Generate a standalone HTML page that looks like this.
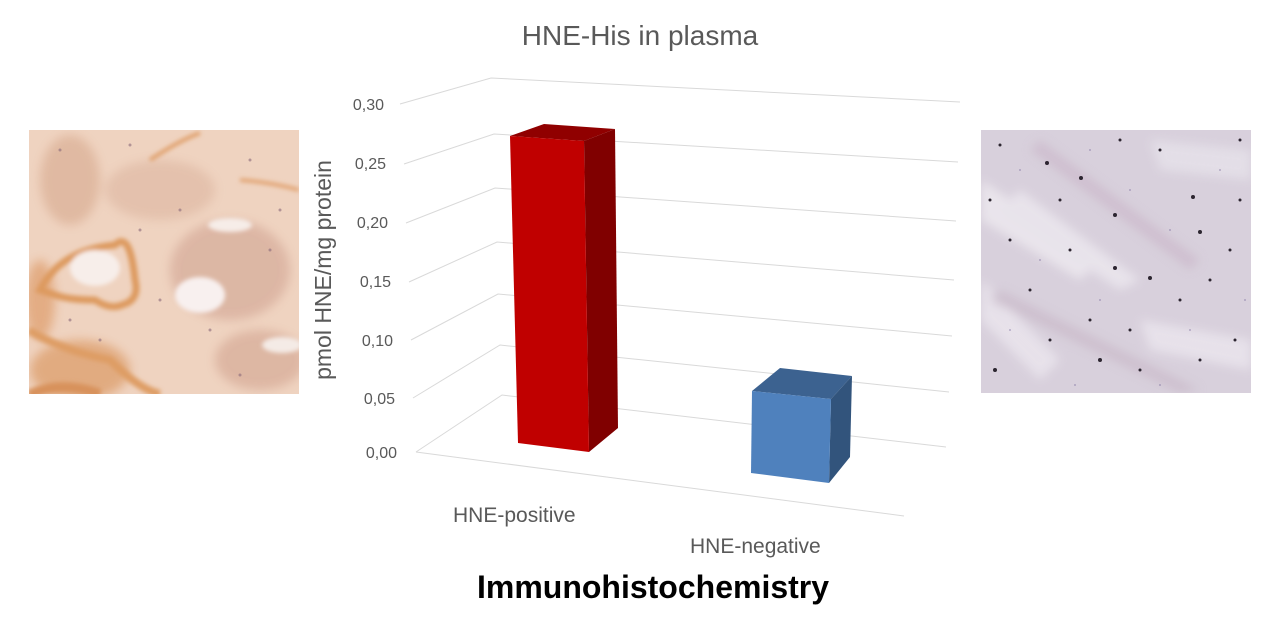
<!DOCTYPE html>
<html><head><meta charset="utf-8"><style>
html,body{margin:0;padding:0;background:#fff;}
body{width:1280px;height:620px;position:relative;overflow:hidden;font-family:"Liberation Sans",sans-serif;}
</style></head><body>
<svg width="1280" height="620" viewBox="0 0 1280 620" xmlns="http://www.w3.org/2000/svg" style="position:absolute;left:0;top:0">
<defs>
<filter id="blur2"><feGaussianBlur stdDeviation="2"/></filter>
<filter id="blur4"><feGaussianBlur stdDeviation="5"/></filter>
<clipPath id="cl"><rect x="29" y="130" width="270" height="264"/></clipPath>
<clipPath id="cr"><rect x="981" y="130" width="270" height="263"/></clipPath>
</defs>
<g clip-path="url(#cl)">
<rect x="29" y="130" width="270" height="264" fill="#efd3c0"/>
<g filter="url(#blur4)" opacity="0.9">
<ellipse cx="70" cy="180" rx="30" ry="45" fill="#dfb79f"/>
<ellipse cx="230" cy="270" rx="60" ry="50" fill="#dbb4a2"/>
<ellipse cx="260" cy="360" rx="45" ry="30" fill="#dcb4a0"/>
<ellipse cx="160" cy="190" rx="55" ry="30" fill="#e3c0ab"/>
<ellipse cx="80" cy="370" rx="50" ry="30" fill="#e0a77a"/>
<ellipse cx="40" cy="300" rx="15" ry="40" fill="#e2a97e"/>
</g>
<g filter="url(#blur2)">
<path d="M40 290 Q60 250 115 245 Q130 230 135 280 Q140 300 122 305 Q110 310 95 300 Q70 300 55 295 Z" fill="none" stroke="#dd9a5e" stroke-width="7"/>
<ellipse cx="95" cy="268" rx="25" ry="18" fill="#f7eeea"/>
<ellipse cx="200" cy="295" rx="25" ry="18" fill="#f8f0ef"/>
<ellipse cx="230" cy="225" rx="22" ry="7" fill="#f6ede8"/>
<ellipse cx="282" cy="345" rx="20" ry="8" fill="#f4ebe6"/>
<path d="M29 330 Q60 350 110 360 Q140 390 160 394" stroke="#de9d65" stroke-width="8" fill="none"/>
<path d="M150 160 Q180 140 200 133" stroke="#e0a06c" stroke-width="4" fill="none"/>
<path d="M240 180 Q270 182 299 190" stroke="#e2a676" stroke-width="4" fill="none"/>
<path d="M29 395 Q60 380 100 394" stroke="#d8925c" stroke-width="10" fill="none"/>
</g>
<g fill="#8a6a7a" opacity="0.6">
<circle cx="60" cy="150" r="1.5"/><circle cx="130" cy="145" r="1.5"/><circle cx="180" cy="210" r="1.5"/><circle cx="250" cy="160" r="1.5"/><circle cx="270" cy="250" r="1.5"/><circle cx="160" cy="300" r="1.5"/><circle cx="210" cy="330" r="1.5"/><circle cx="240" cy="375" r="1.5"/><circle cx="100" cy="340" r="1.5"/><circle cx="70" cy="320" r="1.5"/><circle cx="280" cy="210" r="1.5"/><circle cx="140" cy="230" r="1.5"/>
</g>
</g>
<g clip-path="url(#cr)">
<rect x="981" y="130" width="270" height="263" fill="#d8d0dc"/>
<g filter="url(#blur4)" opacity="0.8">
<path d="M981 180 L1100 260 L1080 280 L981 220Z" fill="#eeeaf0"/>
<path d="M1020 190 L1140 280 L1120 290 L1000 210Z" fill="#ece8ef"/>
<path d="M981 280 L1060 360 L1040 380 L981 320Z" fill="#ebe6ee"/>
<path d="M1150 140 L1251 150 L1251 180 L1160 170Z" fill="#e6e2ea"/>
<path d="M1140 320 L1251 340 L1251 370 L1150 350Z" fill="#ebe6ee"/>
<path d="M1040 140 L1200 260 L1190 270 L1030 150Z" fill="#cdbccd"/>
<path d="M1000 290 L1200 390 L1180 393 L990 300Z" fill="#cbbccb"/>
</g>
<g fill="#2c2530">
<circle cx="1000" cy="145" r="1.5"/><circle cx="1047" cy="163" r="2"/><circle cx="1081" cy="178" r="2"/><circle cx="1115" cy="215" r="2"/><circle cx="1193" cy="197" r="2"/><circle cx="1200" cy="232" r="2"/><circle cx="1150" cy="278" r="2"/><circle cx="1115" cy="268" r="2"/><circle cx="1010" cy="240" r="1.5"/><circle cx="1030" cy="290" r="1.5"/><circle cx="1090" cy="320" r="1.5"/><circle cx="1180" cy="300" r="1.5"/><circle cx="1230" cy="250" r="1.5"/><circle cx="1240" cy="200" r="1.5"/><circle cx="1235" cy="340" r="1.5"/><circle cx="1100" cy="360" r="2"/><circle cx="1140" cy="370" r="1.5"/><circle cx="995" cy="370" r="2"/><circle cx="1060" cy="200" r="1.5"/><circle cx="1160" cy="150" r="1.5"/><circle cx="1210" cy="280" r="1.5"/><circle cx="1120" cy="140" r="1.5"/><circle cx="1070" cy="250" r="1.5"/><circle cx="1050" cy="340" r="1.5"/><circle cx="1200" cy="360" r="1.5"/><circle cx="1240" cy="140" r="1.5"/><circle cx="990" cy="200" r="1.5"/><circle cx="1130" cy="330" r="1.5"/>
</g>
<g fill="#6a5a90" opacity="0.4">
<circle cx="1020" cy="170" r="1"/><circle cx="1090" cy="150" r="1"/><circle cx="1130" cy="190" r="1"/><circle cx="1170" cy="230" r="1"/><circle cx="1040" cy="260" r="1"/><circle cx="1100" cy="300" r="1"/><circle cx="1190" cy="330" r="1"/><circle cx="1220" cy="170" r="1"/><circle cx="1010" cy="330" r="1"/><circle cx="1075" cy="385" r="1"/><circle cx="1160" cy="385" r="1"/><circle cx="1245" cy="300" r="1"/>
</g>
</g>

<text x="640" y="45" text-anchor="middle" font-size="28" fill="#595959">HNE-His in plasma</text>

<g stroke="#d9d9d9" stroke-width="1" fill="none">
<polyline points="400,104 491,78 960,102"/>
<polyline points="404,164 494,134 958,162"/>
<polyline points="406,223 495,188 956,221"/>
<polyline points="409,282 497,242 954,280"/>
<polyline points="411,340 498,294 952,336"/>
<polyline points="413,398 500,345 949,392"/>
<polyline points="416,452 502,395 946,447"/>
<line x1="416" y1="452" x2="904" y2="516"/>
</g>

<g font-size="16" fill="#595959" text-anchor="end">
<text x="384" y="110">0,30</text>
<text x="386" y="169">0,25</text>
<text x="388" y="228">0,20</text>
<text x="391" y="287">0,15</text>
<text x="393" y="346">0,10</text>
<text x="395" y="404">0,05</text>
<text x="397" y="458">0,00</text>
</g>
<text transform="translate(331,270) rotate(-90)" text-anchor="middle" font-size="23" fill="#595959">pmol HNE/mg protein</text>

<polygon points="510,136 544,124 615,129 584,141" fill="#900000"/>
<polygon points="584,141 615,129 618,428 589,452" fill="#800000"/>
<polygon points="510,136 584,141 589,452 518,443" fill="#c00000"/>
<polygon points="752,391 780,368 852,376 831,399" fill="#3c6290"/>
<polygon points="831,399 852,376 850,457 829,483" fill="#32547c"/>
<polygon points="752,391 831,399 829,483 751,473" fill="#4f81bd"/>

<text x="453" y="522" font-size="21" fill="#595959">HNE-positive</text>
<text x="690" y="553" font-size="21" fill="#595959">HNE-negative</text>
<text x="653" y="598" text-anchor="middle" font-size="32" font-weight="bold" fill="#000">Immunohistochemistry</text>
</svg>
</body></html>
